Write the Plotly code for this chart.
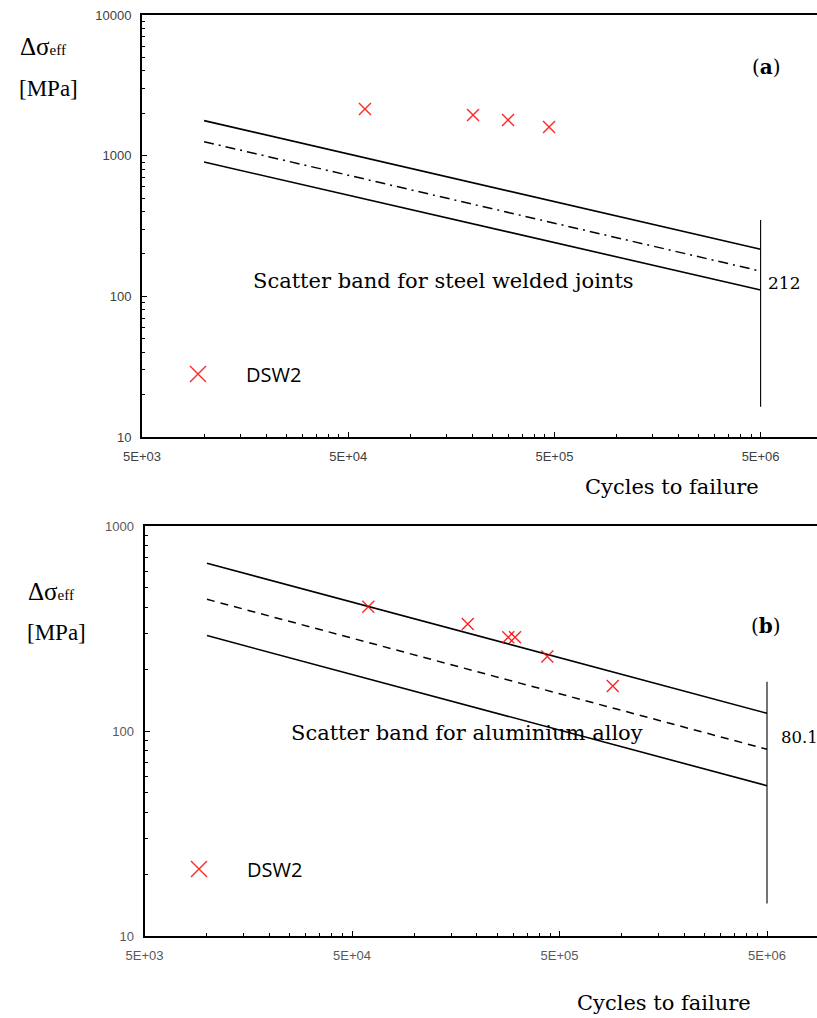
import plotly.graph_objects as go
import math

W, H = 817, 1018

# ---------------- data (a) steel welded joints ----------------
band_x_a = [1e4, 5e6]
upper_a = [1774, 216]
mean_a = [1257, 151]
lower_a = [901, 111]
vline_x_a = [5e6, 5e6]
vline_y_a = [349, 16.4]
dsw2_x_a = [60300, 201500, 298000, 471000]
dsw2_y_a = [2147, 1945, 1792, 1599]

# ---------------- data (b) aluminium alloy ----------------
band_x_b = [1e4, 5e6]
upper_b = [658, 122]
mean_b = [439, 81.4]
lower_b = [292, 54.1]
vline_x_b = [5e6, 5e6]
vline_y_b = [174, 14.4]
dsw2_x_b = [59900, 180600, 283200, 305100, 436900, 902800]
dsw2_y_b = [404, 332.6, 286.5, 286.5, 230.7, 165.8]

x_tickvals = [5e3, 5e4, 5e5, 5e6]
x_ticktext = ["5E+03", "5E+04", "5E+05", "5E+06"]
ya_tickvals = [10, 100, 1000, 10000]
yb_tickvals = [10, 100, 1000]

x_minor = [5e3 * k * 10 ** d for d in range(4) for k in range(2, 10)]
y_minor = [k * 10 ** d for d in range(1, 4) for k in range(2, 10)]

LINE = dict(color="black", width=1.6)
RED = "rgba(255,0,0,0.85)"

fig = go.Figure()

def add_panel(xa, ya, bx, up, mn, lo, mdash, vx, vy, dx, dy, legend):
    fig.add_trace(go.Scatter(x=bx, y=up, mode="lines", line=LINE, xaxis=xa, yaxis=ya, showlegend=False, hoverinfo="skip"))
    fig.add_trace(go.Scatter(x=bx, y=mn, mode="lines", line=dict(color="black", width=1.5, dash=mdash), xaxis=xa, yaxis=ya, showlegend=False, hoverinfo="skip"))
    fig.add_trace(go.Scatter(x=bx, y=lo, mode="lines", line=LINE, xaxis=xa, yaxis=ya, showlegend=False, hoverinfo="skip"))
    fig.add_trace(go.Scatter(x=vx, y=vy, mode="lines", line=dict(color="black", width=1.1), xaxis=xa, yaxis=ya, showlegend=False, hoverinfo="skip"))
    fig.add_trace(go.Scatter(x=dx, y=dy, mode="markers", name="DSW2", showlegend=False,
                             marker=dict(symbol="x-thin", size=12, line=dict(color=RED, width=1.4)),
                             xaxis=xa, yaxis=ya))
    # legend entry only (larger symbol, as in the reference key)
    fig.add_trace(go.Scatter(x=[None], y=[None], mode="markers", name="DSW2", legend=legend,
                             marker=dict(symbol="x-thin", size=22, line=dict(color=RED, width=1.4)),
                             xaxis=xa, yaxis=ya))

add_panel("x", "y", band_x_a, upper_a, mean_a, lower_a, "10px,5px,2px,5px", vline_x_a, vline_y_a, dsw2_x_a, dsw2_y_a, "legend")
add_panel("x2", "y2", band_x_b, upper_b, mean_b, lower_b, "8px,6px", vline_x_b, vline_y_b, dsw2_x_b, dsw2_y_b, "legend2")

def xaxis(domain, rng, anchor, color):
    return dict(type="log", domain=domain, range=rng, anchor=anchor, automargin=False,
                tickvals=x_tickvals, ticktext=x_ticktext, ticks="inside", ticklen=5, tickwidth=1.3,
                tickcolor="black", showline=True, linecolor="black", linewidth=2, mirror=True,
                showgrid=False, zeroline=False, ticklabelstandoff=6,
                tickfont=dict(family="Liberation Sans, Arial", size=13, color=color),
                minor=dict(tickmode="array", tickvals=x_minor, ticks="inside", ticklen=3, tickwidth=1.2, tickcolor="black", showgrid=False))

def yaxis(domain, rng, anchor, tv, color):
    return dict(type="log", domain=domain, range=rng, anchor=anchor, automargin=False,
                tickvals=tv, ticktext=[str(v) for v in tv], ticks="inside", ticklen=5, tickwidth=1.3,
                tickcolor="black", showline=True, linecolor="black", linewidth=2, mirror=False,
                showgrid=False, zeroline=False, ticklabelstandoff=6,
                tickfont=dict(family="Liberation Sans, Arial", size=13, color=color),
                minor=dict(tickmode="array", tickvals=y_minor, ticks="inside", ticklen=3, tickwidth=1.2, tickcolor="black", showgrid=False))

xa_l, xb_l = 142, 144.5
xa_range = [math.log10(5e3), math.log10(5e3) + (W - xa_l) / 206.2]
xb_range = [math.log10(5e3), math.log10(5e3) + (W - xb_l) / 207.5]

serif = "Liberation Serif, Times New Roman, serif"
pal = "DejaVu Serif, serif"

def px(x):
    return x / W

def py(y):
    return 1 - y / H

annotations = []
def ann(text, x, y, size, family=serif, xanchor="center", color="black"):
    annotations.append(dict(text=text, x=px(x), y=py(y), xref="paper", yref="paper",
                            xanchor=xanchor, yanchor="middle", showarrow=False,
                            font=dict(family=family, size=size, color=color)))

# panel (a)
ann("Δσ<span style='font-size:15px'>eff</span>", 18, 46, 25, xanchor="left")
ann("[MPa]", 17, 88, 23, xanchor="left")
ann("(<b>a</b>)", 766, 67, 20, family=pal)
ann("Scatter band for steel welded joints", 443, 281, 21, family=pal)
ann("212", 766, 283, 17, family=pal, xanchor="left")
ann("Cycles to failure", 672, 487, 21, family=pal)
# panel (b)
ann("Δσ<span style='font-size:15px'>eff</span>", 26, 591, 25, xanchor="left")
ann("[MPa]", 25, 632, 23, xanchor="left")
ann("(<b>b</b>)", 766, 626, 20, family=pal)
ann("Scatter band for aluminium alloy", 467, 733, 21, family=pal)
ann("80.1", 779, 737, 16.5, family=pal, xanchor="left")
ann("Cycles to failure", 664, 1003, 21, family=pal)

leg = dict(bgcolor="rgba(0,0,0,0)", borderwidth=0, itemwidth=86, itemsizing="trace",
           font=dict(family="Open Sans", size=20, color="black"),
           xanchor="left", yanchor="middle")

fig.update_layout(
    width=W, height=H, margin=dict(l=0, r=0, t=0, b=0),
    paper_bgcolor="white", plot_bgcolor="white",
    xaxis=xaxis([px(xa_l), 1.0], xa_range, "y", "#404040"),
    yaxis=yaxis([py(437), py(15)], [1, 4], "x", ya_tickvals, "#404040"),
    xaxis2=xaxis([px(xb_l), 1.0], xb_range, "y2", "#595959"),
    yaxis2=yaxis([py(936), py(526)], [1, 3], "x2", yb_tickvals, "#595959"),
    legend=dict(leg, x=px(150), y=py(374)),
    legend2=dict(leg, x=px(151), y=py(869)),
    annotations=annotations,
)

fig.write_html("out.html")
